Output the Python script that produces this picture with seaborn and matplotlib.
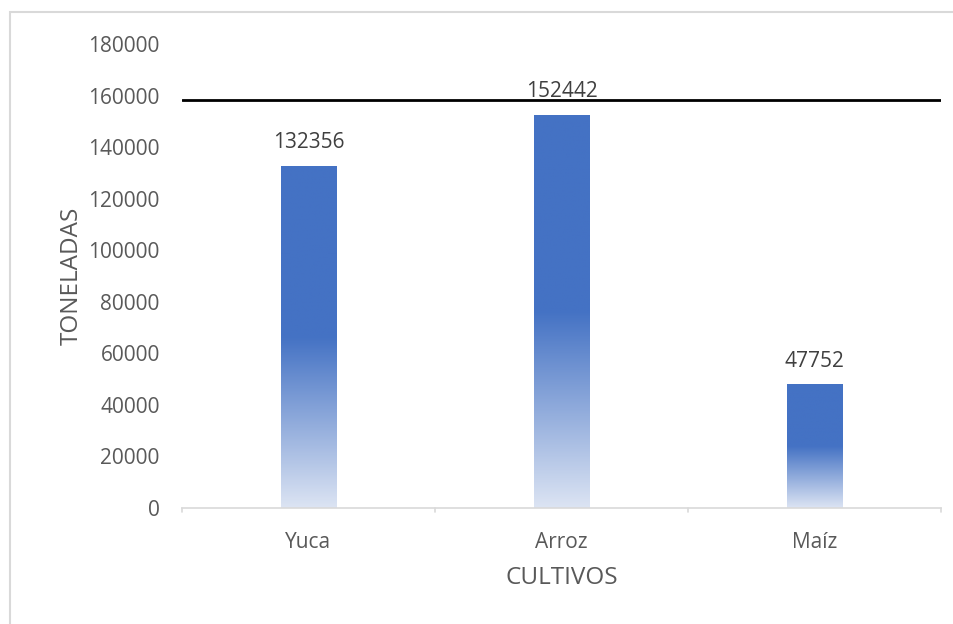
import numpy as np
import pandas as pd
import matplotlib
matplotlib.use("Agg")
import matplotlib.pyplot as plt
import seaborn as sns
from matplotlib.colors import LinearSegmentedColormap
from matplotlib.patches import Rectangle

# data
cultivos = ["Yuca", "Arroz", "Maíz"]
toneladas = [132356, 152442, 47752]
linea_ref = 158300
y_ticks = [0, 20000, 40000, 60000, 80000, 100000, 120000, 140000, 160000, 180000]

sns.set_theme(style="white")
plt.rcParams["font.family"] = ["Open Sans", "DejaVu Sans"]
gris = "#595959"

df = pd.DataFrame({"cultivo": cultivos, "toneladas": toneladas})

fig = plt.figure(figsize=(9.54, 6.24), dpi=100)
ax = fig.add_axes([182 / 954, 1 - 508 / 624, (941 - 182) / 954, (508 - 44) / 624])

sns.barplot(data=df, x="cultivo", y="toneladas", color="#4472C4", width=0.22, ax=ax)

# gradient fill: solid top half, fade to light at the bottom
cmap = LinearSegmentedColormap.from_list(
    "grad", [(0, "#DCE4F3"), (0.5, "#4472C4"), (1, "#4472C4")])
grad = np.linspace(0, 1, 256).reshape(-1, 1)
for p in ax.patches:
    x0, y0 = p.get_x(), p.get_y()
    w, h = p.get_width(), p.get_height()
    ax.imshow(grad, cmap=cmap, origin="lower", aspect="auto",
              extent=[x0, x0 + w, y0, y0 + h], zorder=2)
    p.set_visible(False)
    ax.text(x0 + w / 2, y0 + h + 5200, f"{int(h)}", ha="center", va="bottom",
            fontsize=15, color="#404040", zorder=4)
ax.set_xlim(-0.5, 2.5)
ax.set_ylim(0, 180000)

ax.axhline(linea_ref, color="black", lw=2, zorder=3)

ax.set_yticks(y_ticks)
ax.set_yticklabels([str(t) for t in y_ticks])
ax.tick_params(axis="both", labelsize=15, labelcolor=gris, length=0)
ax.tick_params(axis="y", pad=16)
ax.tick_params(axis="x", pad=17)

for s in ["top", "right", "left"]:
    ax.spines[s].set_visible(False)
ax.spines["bottom"].set_color("#D9D9D9")
ax.spines["bottom"].set_linewidth(1.2)

# category boundary ticks on x axis
for xb in [-0.5, 0.5, 1.5, 2.5]:
    ax.plot([xb, xb], [0, -1500], color="#D9D9D9", lw=1.2, clip_on=False)

ax.set_xlabel("CULTIVOS", fontsize=17.5, color=gris, labelpad=10)
ax.set_ylabel("TONELADAS", fontsize=17.5, color=gris, labelpad=3)

# outer chart border (partially visible)
fig.patches.append(Rectangle((10 / 954, -0.2), 2, 1.2 - 12 / 624, transform=fig.transFigure,
                             fill=False, edgecolor="#D9D9D9", lw=1.5))

fig.savefig("out.png", dpi=100)
